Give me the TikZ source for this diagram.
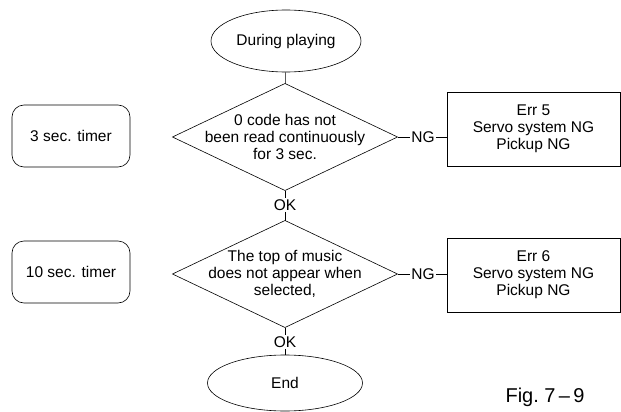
\documentclass[tikz,border=0pt]{standalone}
\usepackage{fontspec}
\setmainfont{Liberation Sans}
\usetikzlibrary{shapes.geometric}

\begin{document}
\begin{tikzpicture}[x=1pt,y=-1pt,line width=0.6pt,
  txt/.style={font=\fontsize{15.5}{17}\selectfont,align=center},
  term/.style={txt,draw,ellipse,inner sep=0pt},
  cond/.style={txt,draw,diamond,aspect=2.1,inner sep=-8pt,outer sep=0pt,minimum width=225pt,minimum height=107pt},
  timer/.style={txt,draw,rounded corners=12pt,minimum width=118pt,minimum height=62pt},
  errbox/.style={txt,draw,minimum width=173pt,minimum height=74pt},
  tag/.style={txt,inner sep=1pt}]
  \useasboundingbox (0,0) rectangle (621,412);
  \node[term,minimum width=150pt,minimum height=62pt] (start) at (286,41) {During playing};
  \node[cond] (chk1) at (285,137) {0 code has not\\been read continuously\\for 3 sec.};
  \node[tag] (ok1) at (285,205) {OK};
  \node[cond] (chk2) at (285,274) {The top of music\\does not appear when\\selected,};
  \node[tag] (ok2) at (285,342) {OK};
  \node[term,minimum width=155pt,minimum height=56pt] (stop) at (285,383) {End};
  \node[timer] (tim1) at (71,136) {3 sec. timer};
  \node[timer] (tim2) at (71,272) {10 sec. timer};
  \node[tag] (ng1) at (423,137) {NG};
  \node[tag] (ng2) at (423,274) {NG};
  \node[errbox] (err1) at (533.5,129) {Err 5\\Servo system NG\\Pickup NG};
  \node[errbox] (err2) at (533.5,275) {Err 6\\Servo system NG\\Pickup NG};
  \node[font=\fontsize{20}{22}\selectfont] (fig) at (545,397) {Fig.\ 7\,--\,9};
  % flow
  \draw (start) -- (chk1);
  \draw (chk1) -- (ok1) -- (chk2);
  \draw (chk2) -- (ok2) -- (stop);
  \draw (chk1) -- (ng1) -- (err1.west |- ng1);
  \draw (chk2) -- (ng2) -- (err2.west |- ng2);
\end{tikzpicture}
\end{document}
